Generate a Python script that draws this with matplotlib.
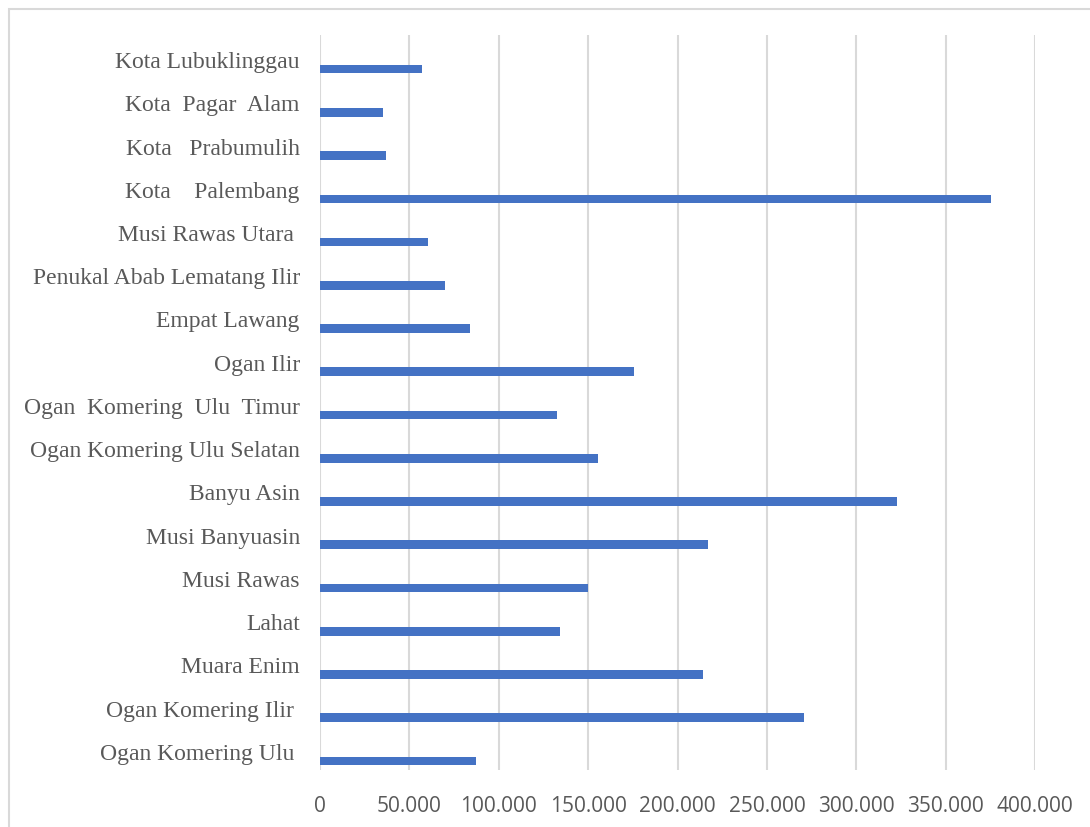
import numpy as np
import matplotlib.pyplot as plt
from matplotlib.patches import Rectangle
from matplotlib.ticker import FuncFormatter

# Regions, listed from bottom to top of the chart
regions = [
    'Ogan Komering Ulu ',
    'Ogan Komering Ilir ',
    'Muara Enim',
    'Lahat',
    'Musi Rawas',
    'Musi Banyuasin',
    'Banyu Asin',
    'Ogan Komering Ulu Selatan',
    'Ogan  Komering  Ulu  Timur',
    'Ogan Ilir',
    'Empat Lawang',
    'Penukal Abab Lematang Ilir',
    'Musi Rawas Utara ',
    'Kota    Palembang',
    'Kota   Prabumulih',
    'Kota  Pagar  Alam',
    'Kota Lubuklinggau',
]
values = [87300, 270800, 214300, 134300, 149900, 217100, 322600, 155500,
          132600, 175700, 83900, 69900, 60400, 375200, 36900, 35200, 57000]
x_ticks = [0, 50000, 100000, 150000, 200000, 250000, 300000, 350000, 400000]

fig = plt.figure(figsize=(10.9, 8.27), dpi=100)
ax = fig.add_axes([320 / 1090, 1 - 770 / 827, 715 / 1090, 735 / 827])

pos = np.arange(len(regions))
ax.barh(pos - 0.29, values, height=0.2, color='#4472C4')

ax.set_xlim(0, 400000)
ax.set_ylim(-0.5, len(regions) - 0.5)
ax.set_xticks(x_ticks)
ax.xaxis.set_major_formatter(FuncFormatter(lambda v, p: '0' if v == 0 else f'{int(v):,}'.replace(',', '.')))
ax.set_yticks(pos - 0.08)
ax.set_yticklabels(regions, family='Liberation Serif', fontsize=17, color='#595959')

for lab in ax.get_xticklabels():
    lab.set_family('Open Sans')
    lab.set_fontsize(15)
    lab.set_color('#595959')

ax.tick_params(axis='both', length=0)
ax.tick_params(axis='x', pad=19)
ax.tick_params(axis='y', pad=14.5)
ax.grid(axis='x', color='#D9D9D9', linewidth=1.5)
ax.set_axisbelow(True)
for s in ax.spines.values():
    s.set_visible(False)

# outer chart border (runs off the right and bottom edges)
fig.patches.append(Rectangle((9 / 1090, -0.1), 1.2, 1 - 9 / 827 + 0.1,
                             transform=fig.transFigure, fill=False,
                             edgecolor='#D9D9D9', linewidth=1.5))

fig.savefig('out.png', dpi=100)
